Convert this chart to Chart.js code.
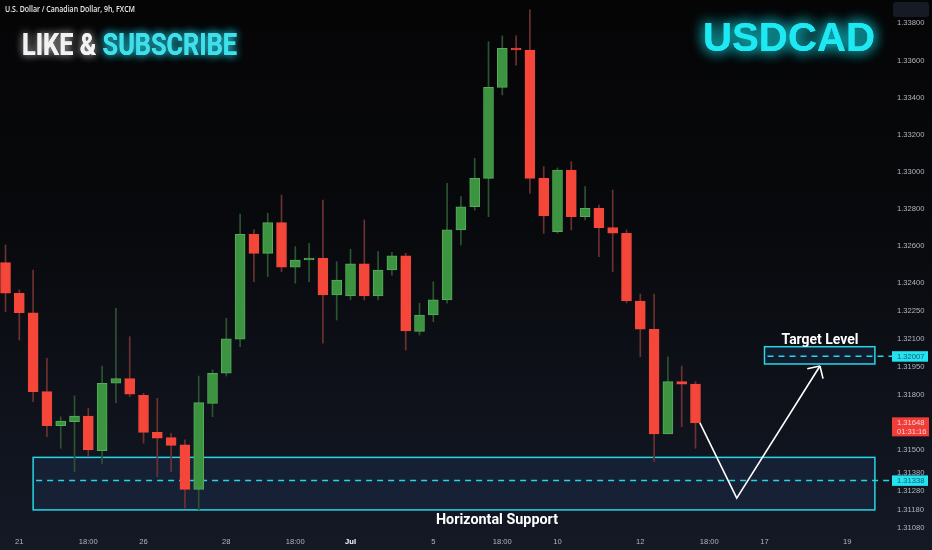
<!DOCTYPE html>
<html>
<head>
<meta charset="utf-8">
<script src="https://cdn.jsdelivr.net/npm/chart.js@4.4.1/dist/chart.umd.min.js"></script>
<style>
  html, body { margin: 0; padding: 0; background: #07080b; }
  #wrap { width: 932px; height: 550px; }
</style>
</head>
<body>
<div id="wrap"><canvas id="chart" width="932" height="550"></canvas></div>
<script>
// --- DATOS (velas de 9h USDCAD) ---
const opens  = [1.32511,1.32346,1.32241,1.31816,1.31633,1.31654,1.31685,1.31498,1.31861,1.31886,
                1.31796,1.31597,1.31568,1.31529,1.31290,1.31753,1.31915,1.32098,1.32664,1.32561,
                1.32726,1.32486,1.32525,1.32534,1.32337,1.32331,1.32504,1.32331,1.32471,1.32548,
                1.32141,1.32229,1.32310,1.32687,1.32812,1.32965,1.33455,1.33665,1.33656,1.32965,
                1.32678,1.33010,1.32758,1.32804,1.32700,1.32669,1.32304,1.32152,1.31588,1.31870,
                1.31857];
const highs  = [1.32606,1.32364,1.32471,1.31996,1.31681,1.31793,1.31726,1.31954,1.32265,1.32112,
                1.31807,1.31780,1.31592,1.31556,1.31900,1.31933,1.32211,1.32773,1.32687,1.32777,
                1.32875,1.32597,1.32615,1.32848,1.32516,1.32583,1.32741,1.32570,1.32567,1.32561,
                1.32292,1.32408,1.32938,1.32866,1.33073,1.33701,1.33732,1.33732,1.33872,1.33028,
                1.33021,1.33055,1.32920,1.32821,1.32902,1.32687,1.32342,1.32342,1.32004,1.31954,
                1.31870];
const lows   = [1.32247,1.32094,1.31762,1.31573,1.31511,1.31385,1.31466,1.31430,1.31757,1.31789,
                1.31538,1.31358,1.31385,1.31188,1.31179,1.31681,1.31900,1.32058,1.32408,1.32435,
                1.32462,1.32400,1.32408,1.32077,1.32202,1.32310,1.32310,1.32310,1.32444,1.32040,
                1.32121,1.32193,1.32292,1.32606,1.32794,1.32758,1.33414,1.33575,1.32884,1.32669,
                1.32669,1.32687,1.32741,1.32543,1.32462,1.32294,1.32004,1.31439,1.31588,1.31627,
                1.31511];
const closes = [1.32346,1.32241,1.31816,1.31633,1.31658,1.31685,1.31502,1.31861,1.31886,1.31802,
                1.31597,1.31566,1.31527,1.31290,1.31757,1.31915,1.32100,1.32664,1.32561,1.32726,
                1.32486,1.32525,1.32534,1.32337,1.32417,1.32504,1.32331,1.32471,1.32548,1.32143,
                1.32229,1.32310,1.32687,1.32812,1.32965,1.33455,1.33665,1.33656,1.32965,1.32762,
                1.33010,1.32758,1.32804,1.32699,1.32669,1.32304,1.32152,1.31588,1.31870,1.31856,
                1.31648];

// eje de tiempo (índice de vela) y etiquetas
const timeTickIdx    = [1, 6, 10, 16, 21, 25, 31, 36, 40, 46, 51, 55, 61];
const timeTickLabels = ['21', '18:00', '26', '28', '18:00', 'Jul', '5', '18:00', '10', '12', '18:00', '17', '19'];
const priceTicks = [1.338, 1.336, 1.334, 1.332, 1.330, 1.328, 1.326, 1.324, 1.3225, 1.321,
                    1.3195, 1.318, 1.315, 1.3138, 1.3128, 1.3118, 1.3108];

// zonas: [desde idx, hasta idx, precio arriba, precio abajo, nivel]
const supportZone = [2.0, 63.0, 1.31462, 1.31179, 1.31338];
const targetZone  = [55.0, 63.0, 1.32058, 1.31965, 1.32007];
// trayectoria de la flecha (idx, precio)
const arrowX = [50.32, 52.99, 59.02];
const arrowY = [1.31648, 1.31242, 1.31954];
const lastPrice = 1.31648;
const countdown = '01:31:16';

// --- COLORES ---
const UP = '#3c9441', UP_EDGE = '#55ad5a', DOWN = '#f4473a';
const UP_WICK = '#2c5431', DOWN_WICK = '#6e3131';
const CYAN = '#26d7e4';

const isUp = opens.map((o, i) => closes[i] >= o);

const wickData = lows.map((l, i) => ({ x: i, y: [l, highs[i]] }));
const bodyData = opens.map((o, i) => ({ x: i, y: [o, closes[i]] }));

function fitText(ctx, text, x, y, width) {
    const w = ctx.measureText(text).width;
    ctx.save();
    ctx.translate(x, y);
    ctx.scale(width / w, 1);
    ctx.fillText(text, 0, 0);
    ctx.restore();
}

// sin relleno extra alrededor del área del gráfico
function noPad(scale) {
    scale.paddingTop = 0;
    scale.paddingBottom = 0;
    scale.paddingLeft = 0;
    scale.paddingRight = 0;
}

const bgPlugin = {
    id: 'bg',
    beforeDraw(chart) {
        const { ctx, width, height } = chart;
        const g = ctx.createLinearGradient(0, 0, 0, height);
        g.addColorStop(0, '#050506');
        g.addColorStop(0.4, '#08090c');
        g.addColorStop(1, '#141926');
        ctx.save();
        ctx.fillStyle = g;
        ctx.fillRect(0, 0, width, height);
        ctx.restore();
    }
};

const zonesPlugin = {
    id: 'zones',
    beforeDatasetsDraw(chart) {
        const { ctx, scales: { x, y } } = chart;
        [supportZone, targetZone].forEach(z => {
            const x1 = x.getPixelForValue(z[0]), x2 = x.getPixelForValue(z[1]);
            const y1 = y.getPixelForValue(z[2]), y2 = y.getPixelForValue(z[3]);
            const yl = y.getPixelForValue(z[4]);
            ctx.save();
            ctx.fillStyle = 'rgba(45, 85, 150, 0.18)';
            ctx.fillRect(x1, y1, x2 - x1, y2 - y1);
            ctx.strokeStyle = CYAN;
            ctx.lineWidth = 1.5;
            ctx.strokeRect(x1, y1, x2 - x1, y2 - y1);
            ctx.setLineDash([6, 5]);
            ctx.beginPath();
            ctx.moveTo(x1 + 3, yl);
            ctx.lineTo(chart.chartArea.right + 4, yl);
            ctx.stroke();
            ctx.restore();
        });
    }
};

const overlayPlugin = {
    id: 'overlay',
    afterDraw(chart) {
        const { ctx, scales: { x, y }, chartArea } = chart;
        ctx.save();

        // flecha
        const pts = arrowX.map((v, i) => [x.getPixelForValue(v), y.getPixelForValue(arrowY[i])]);
        ctx.strokeStyle = '#ffffff';
        ctx.lineWidth = 1.6;
        ctx.beginPath();
        pts.forEach((p, i) => i ? ctx.lineTo(p[0], p[1]) : ctx.moveTo(p[0], p[1]));
        ctx.stroke();
        const tip = pts[pts.length - 1], prev = pts[pts.length - 2];
        const ang = Math.atan2(prev[1] - tip[1], prev[0] - tip[0]);
        ctx.beginPath();
        [-0.8, 0.8].forEach(d => {
            ctx.moveTo(tip[0], tip[1]);
            ctx.lineTo(tip[0] + 13 * Math.cos(ang + d), tip[1] + 13 * Math.sin(ang + d));
        });
        ctx.stroke();

        // textos de las zonas
        ctx.fillStyle = '#ffffff';
        ctx.textBaseline = 'alphabetic';
        ctx.font = 'bold 15px Roboto';
        fitText(ctx, 'Target Level', 781.5, 343.5, 77);
        fitText(ctx, 'Horizontal Support', 436, 523.5, 122);

        // título
        ctx.font = '600 8px "Open Sans"';
        ctx.fillStyle = '#e8e8e8';
        ctx.textBaseline = 'middle';
        fitText(ctx, 'U.S. Dollar / Canadian Dollar, 9h, FXCM', 5, 10, 130);

        // LIKE & SUBSCRIBE
        ctx.textBaseline = 'alphabetic';
        ctx.font = 'bold 32px Roboto';
        const full = ctx.measureText('LIKE & SUBSCRIBE').width;
        const s = 215 / full;
        const w1 = ctx.measureText('LIKE & ').width * s;
        for (let k = 0; k < 2; k++) {
            ctx.shadowColor = 'rgba(255,255,255,0.45)';
            ctx.shadowBlur = 9;
            ctx.fillStyle = '#f2f2f2';
            ctx.save(); ctx.translate(22, 55); ctx.scale(s, 1); ctx.fillText('LIKE &', 0, 0); ctx.restore();
            ctx.shadowColor = 'rgba(40,220,235,0.7)';
            ctx.fillStyle = '#3fe0ec';
            ctx.save(); ctx.translate(22 + w1, 55); ctx.scale(s, 1); ctx.fillText('SUBSCRIBE', 0, 0); ctx.restore();
        }

        // USDCAD
        ctx.font = 'bold 40px "Liberation Sans"';
        ctx.shadowColor = 'rgba(20,230,240,0.8)';
        ctx.shadowBlur = 14;
        ctx.fillStyle = '#1ee8f2';
        fitText(ctx, 'USDCAD', 703, 51, 172);
        fitText(ctx, 'USDCAD', 703, 51, 172);
        ctx.shadowBlur = 0;
        ctx.shadowColor = 'transparent';

        // botón arriba derecha
        ctx.fillStyle = '#161a24';
        ctx.beginPath();
        ctx.roundRect(893, 2, 36, 15, 3);
        ctx.fill();

        // etiquetas de precio en el eje
        const ax = chartArea.right + 4;
        ctx.font = '7.6px "Liberation Sans"';
        ctx.textBaseline = 'middle';
        ctx.textAlign = 'left';
        [targetZone[4], supportZone[4]].forEach(v => {
            const py = y.getPixelForValue(v);
            ctx.fillStyle = '#22e3f0';
            ctx.fillRect(ax, py - 5, 36, 10.5);
            ctx.fillStyle = '#255566';
            ctx.fillText(v.toFixed(5), ax + 5, py + 0.5);
        });
        const py = y.getPixelForValue(lastPrice);
        ctx.fillStyle = '#f23c38';
        ctx.fillRect(ax, py - 5.5, 37, 19);
        ctx.fillStyle = '#f7d6d2';
        ctx.fillText(lastPrice.toFixed(5), ax + 5, py);
        ctx.fillText(countdown, ax + 5, py + 9);

        ctx.restore();
    }
};

new Chart(document.getElementById('chart'), {
    type: 'bar',
    data: {
        datasets: [{
            label: 'wicks',
            data: wickData,
            backgroundColor: isUp.map(u => u ? UP_WICK : DOWN_WICK),
            barThickness: 1,
            grouped: false,
            order: 2
        }, {
            label: 'bodies',
            data: bodyData,
            backgroundColor: isUp.map(u => u ? UP : DOWN),
            borderColor: isUp.map(u => u ? UP_EDGE : DOWN),
            borderWidth: 1,
            borderSkipped: false,
            barThickness: 10,
            minBarLength: 2,
            grouped: false,
            order: 1
        }]
    },
    options: {
        responsive: false,
        animation: false,
        events: [],
        layout: { padding: 0 },
        plugins: { legend: { display: false }, tooltip: { enabled: false } },
        scales: {
            x: {
                type: 'linear',
                min: -0.4,
                max: 63.95,
                offset: false,
                grid: { display: false, drawTicks: false },
                border: { display: false },
                afterBuildTicks: scale => { scale.ticks = timeTickIdx.map(v => ({ value: v })); },
                afterFit: scale => { scale.height = 18; noPad(scale); },
                ticks: {
                    autoSkip: false,
                    maxRotation: 0,
                    padding: 5,
                    callback: v => timeTickLabels[timeTickIdx.indexOf(v)],
                    font: c => ({ family: 'Liberation Sans', size: 7.6,
                                  weight: (c.tick && timeTickLabels[timeTickIdx.indexOf(c.tick.value)] === 'Jul') ? 'bold' : 'normal' }),
                    color: c => (c.tick && timeTickLabels[timeTickIdx.indexOf(c.tick.value)] === 'Jul') ? '#ffffff' : '#b2b5be'
                }
            },
            y: {
                position: 'right',
                min: 1.31060,
                max: 1.339255,
                grid: { display: false, drawTicks: false },
                border: { display: false },
                afterBuildTicks: scale => { scale.ticks = priceTicks.map(v => ({ value: v })); },
                afterFit: scale => { scale.width = 44; noPad(scale); },
                ticks: {
                    padding: 9,
                    crossAlign: 'near',
                    color: '#b2b5be',
                    font: { family: 'Liberation Sans', size: 7.6 },
                    callback: v => v.toFixed(5)
                }
            }
        }
    },
    plugins: [bgPlugin, zonesPlugin, overlayPlugin]
});
</script>
</body>
</html>
